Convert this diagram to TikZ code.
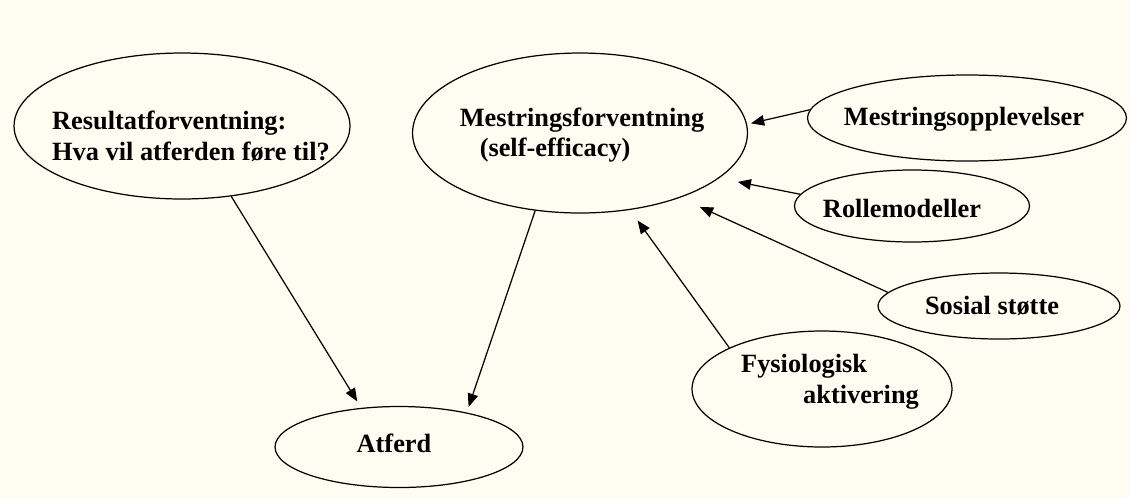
\documentclass[tikz,border=0pt]{standalone}
\usepackage{fontspec}
\setmainfont{Liberation Serif}
\usetikzlibrary{shapes.geometric,arrows.meta}
\definecolor{paper}{RGB}{255,253,242}

\begin{document}
\begin{tikzpicture}[x=0.02cm, y=-0.02cm,
          bubble/.style = {shape=ellipse, draw, line width=0.7pt, inner sep=0pt},
          every label/.style = {inner sep=0pt, align=left, font=\fontsize{15}{17.5}\selectfont\bfseries},
          arr/.style = {-{Triangle[length=7.5pt, width=6pt]}, line width=0.7pt}]
          \fill[paper] (0,0) rectangle (1129,498);
          % the bubbles
          \node[bubble, minimum width=6.72cm, minimum height=2.92cm,
                label={[shift={(9,10)}]center:{Resultatforventning:\\Hva vil atferden føre til?}}] (res) at (182,126) {};
          \node[bubble, minimum width=6.7cm, minimum height=3.2cm,
                label={[shift={(2,2)}]center:{Mestringsforventning\\\hspace*{0.4cm}(self-efficacy)}}] (mfv) at (580,133) {};
          \node[bubble, minimum width=6.38cm, minimum height=1.72cm,
                label={[shift={(-3,1)}]center:{Mestringsopplevelser}}] (mop) at (967,118) {};
          \node[bubble, minimum width=4.7cm, minimum height=1.44cm,
                label={[shift={(-10,2)}]center:{Rollemodeller}}] (rol) at (912,206) {};
          \node[bubble, minimum width=4.84cm, minimum height=1.32cm,
                label={[shift={(-7,0)}]center:{Sosial støtte}}] (sos) at (999,306) {};
          \node[bubble, minimum width=5.2cm, minimum height=2.32cm,
                label={[shift={(8,-7)}]center:{Fysiologisk\\\hspace*{1.24cm}aktivering}}] (fys) at (822,389) {};
          \node[bubble, minimum width=4.96cm, minimum height=1.62cm,
                label={[shift={(-5,-4)}]center:{Atferd}}] (atf) at (399,447) {};
          % arrows
          \draw[arr, shorten >=0.15cm] (res.-55) -- (atf.134.6);
          \draw[arr, shorten >=0.12cm] (mfv.-120) -- (atf.27.5);
          \draw[arr, shorten >=0.08cm] (mop.177.5) -- (mfv.3.5);
          \draw[arr, shorten >=0.38cm] (rol.174.6) -- (mfv.-18.7);
          \draw[arr, shorten >=0.44cm] (sos.173) -- (mfv.-33.5);
          \draw[arr, shorten >=0.26cm] (fys.156) -- (mfv.-57);
\end{tikzpicture}
\end{document}
